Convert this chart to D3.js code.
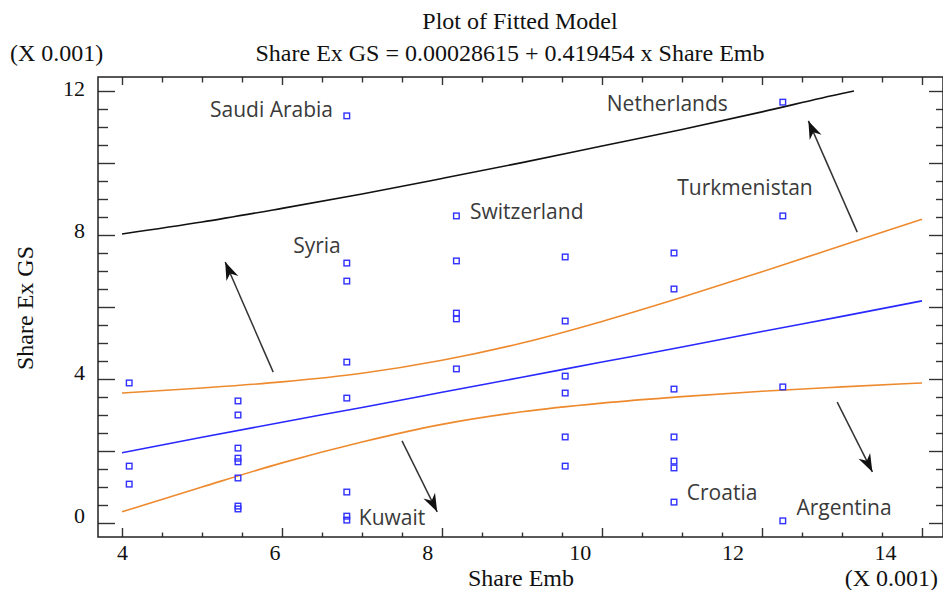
<!DOCTYPE html>
<html><head><meta charset="utf-8">
<script src="https://cdn.jsdelivr.net/npm/d3@7"></script>
<style>body{margin:0;background:#fff;overflow:hidden}</style>
</head><body><svg id="c" width="943" height="590"></svg>
<script>
// ---- data (units of 0.001) ----
const shareEmb = [
  4.09, 4.09, 4.09,
  5.45, 5.45, 5.45, 5.45, 5.45, 5.45, 5.45, 5.45,
  6.81, 6.81, 6.81, 6.81, 6.81, 6.81, 6.81, 6.81,
  8.18, 8.18, 8.18, 8.18, 8.18,
  9.54, 9.54, 9.54, 9.54, 9.54, 9.54,
  10.90, 10.90, 10.90, 10.90, 10.90, 10.90, 10.90,
  12.26, 12.26, 12.26, 12.26
];
const shareExGS = [
  3.89, 1.58, 1.08,
  3.39, 3.00, 2.08, 1.80, 1.70, 1.25, 0.47, 0.39,
  11.31, 7.22, 6.72, 4.47, 3.47, 0.86, 0.19, 0.08,
  8.53, 7.28, 5.83, 5.67, 4.28,
  7.39, 5.61, 4.08, 3.61, 2.39, 1.58,
  7.50, 6.50, 3.72, 2.39, 1.72, 1.53, 0.58,
  11.69, 8.53, 3.78, 0.06
];
const curveX    = [4, 5, 6, 7, 8, 9, 10, 11, 12, 13, 14];
const fitted    = [1.95, 2.38, 2.80, 3.21, 3.63, 4.05, 4.47, 4.89, 5.32, 5.74, 6.17];
const upperConf = [3.61, 3.75, 3.92, 4.16, 4.52, 5.00, 5.60, 6.27, 6.98, 7.71, 8.44];
const lowerConf = [0.31, 1.00, 1.67, 2.25, 2.74, 3.09, 3.33, 3.51, 3.66, 3.78, 3.89];
const predX     = [4, 5, 6, 7, 8, 9, 10, 11, 12, 13, 13.15];
const upperPred = [8.03, 8.36, 8.74, 9.14, 9.57, 10.01, 10.47, 10.93, 11.42, 11.93, 12.0];

const countries = ["Saudi Arabia", "Netherlands", "Switzerland", "Turkmenistan", "Syria", "Kuwait", "Croatia", "Argentina"];
const countryX  = [5.10, 10.06, 8.35, 10.94, 6.14, 6.96, 11.06, 12.43];
const countryY  = [11.28, 11.44, 8.44, 9.11, 7.50, -0.06, 0.64, 0.22];

const arrowFromX = [5.89, 7.50, 13.19, 12.94];
const arrowFromY = [4.19, 2.28, 8.08, 3.36];
const arrowToX   = [5.29, 7.94, 12.58, 13.38];
const arrowToY   = [7.25, 0.31, 11.17, 1.42];

const xTickLabels = [4, 6, 8, 10, 12, 14];
const yTickLabels = [0, 4, 8, 12];

const titleText = "Plot of Fitted Model";
const subtitleText = "Share Ex GS = 0.00028615 + 0.419454 x Share Emb";
const xTitle = "Share Emb";
const yTitle = "Share Ex GS";
const scaleNote = "(X 0.001)";

// ---- layout ----
const L = 98, R = 943, T = 77, B = 537;
const x = d3.scaleLinear().domain([3.7, 14.2625]).range([L, R]);
const y = d3.scaleLinear().domain([-14/36, 446/36]).range([B, T]);
// tick label placement (labels sit on a slightly different spacing in the original)
const xLab = d3.scaleLinear().domain([4, 14]).range([122, 885]);
const yLab = d3.scaleLinear().domain([0, 12]).range([515, 88]);

const svg = d3.select("#c");
const serif = "'Liberation Serif','Times New Roman',serif";
const sans = "'Open Sans','DejaVu Sans',sans-serif";

svg.append("defs").append("clipPath").attr("id", "clip")
  .append("rect").attr("x", L).attr("y", T).attr("width", R - L).attr("height", B - T);

const marker = svg.select("defs").append("marker")
  .attr("id", "ah").attr("markerUnits", "userSpaceOnUse")
  .attr("viewBox", "-19 -8 20 16").attr("refX", 0).attr("refY", 0)
  .attr("markerWidth", 20).attr("markerHeight", 16).attr("orient", "auto");
marker.append("path").attr("d", "M0,0 L-18,-6.5 L-12.5,0 L-18,6.5 Z").attr("fill", "#111");

// ticks
const xt = d3.range(4, 14.01, 0.5);
const yt = d3.range(0, 12.01, 0.5);
const isMajor = v => Math.abs(v / 2 - Math.round(v / 2)) < 1e-6;
const tickColor = "#333";

function styleAxis(g) { g.select(".domain").remove(); g.selectAll("line").attr("stroke", tickColor).attr("stroke-width", 1.4); }

svg.append("g").attr("transform", `translate(0,${B})`)
  .call(d3.axisTop(x).tickValues(xt).tickFormat(""))
  .call(styleAxis)
  .call(g => g.selectAll(".tick line").attr("y2", d => isMajor(d) ? -9 : -4.5));
svg.append("g").attr("transform", `translate(0,${T})`)
  .call(d3.axisBottom(x).tickValues(xt).tickFormat(""))
  .call(styleAxis)
  .call(g => g.selectAll(".tick line").attr("y2", d => isMajor(d) ? 8 : 5.5));
svg.append("g").attr("transform", `translate(${L},0)`)
  .call(d3.axisRight(y).tickValues(yt).tickFormat(""))
  .call(styleAxis)
  .call(g => g.selectAll(".tick line").attr("x2", d => isMajor(d) ? 17 : 10));
svg.append("g").attr("transform", `translate(${R},0)`)
  .call(d3.axisLeft(y).tickValues(yt).tickFormat(""))
  .call(styleAxis)
  .call(g => g.selectAll(".tick line").attr("x2", d => isMajor(d) ? -14 : -7));

// tick labels
svg.append("g").attr("transform", `translate(0,${B})`)
  .call(d3.axisBottom(xLab).tickValues(xTickLabels).tickSize(0).tickPadding(0).tickFormat(d3.format("d")))
  .call(g => g.select(".domain").remove())
  .call(g => g.selectAll("text").attr("font-family", serif).attr("font-size", 22).attr("fill", "#111").attr("dy", null).attr("y", 23));
svg.append("g").attr("transform", `translate(85,0)`)
  .call(d3.axisLeft(yLab).tickValues(yTickLabels).tickSize(0).tickPadding(0).tickFormat(d3.format("d")))
  .call(g => g.select(".domain").remove())
  .call(g => g.selectAll("text").attr("font-family", serif).attr("font-size", 22).attr("fill", "#111").attr("dy", "0.33em"));

// frame
svg.append("rect").attr("x", L).attr("y", T).attr("width", R - L).attr("height", B - T)
  .attr("fill", "none").attr("stroke", "#222").attr("stroke-width", 1.5);

// curves
const plot = svg.append("g").attr("clip-path", "url(#clip)");
const line = d3.line().x(d => x(d[0])).y(d => y(d[1]));
const curves = [
  {xs: predX, ys: upperPred, color: "#111"},
  {xs: curveX, ys: upperConf, color: "#ee8a2e"},
  {xs: curveX, ys: lowerConf, color: "#ee8a2e"},
  {xs: curveX, ys: fitted, color: "#2828ff"}
];
curves.forEach(c => {
  plot.append("path").datum(c.xs.map((v, i) => [v, c.ys[i]]))
    .attr("d", d3.line().curve(d3.curveMonotoneX).x(d => x(d[0])).y(d => y(d[1])))
    .attr("fill", "none").attr("stroke", c.color).attr("stroke-width", 1.6);
});

// points
plot.selectAll("rect.pt").data(shareEmb.map((v, i) => [v, shareExGS[i]])).join("rect")
  .attr("class", "pt")
  .attr("x", d => x(d[0]) - 2.8).attr("y", d => y(d[1]) - 2.8)
  .attr("width", 5.6).attr("height", 5.6)
  .attr("fill", "none").attr("stroke", "#3030ff").attr("stroke-width", 1.4);

// country labels
svg.selectAll("text.cty").data(countries).join("text")
  .attr("class", "cty")
  .attr("x", (d, i) => x(countryX[i])).attr("y", (d, i) => y(countryY[i]))
  .attr("font-family", sans).attr("font-size", 21).attr("fill", "#3a3a3a")
  .text(d => d);

// arrows
svg.selectAll("line.arr").data(arrowFromX).join("line")
  .attr("class", "arr")
  .attr("x1", (d, i) => x(arrowFromX[i])).attr("y1", (d, i) => y(arrowFromY[i]))
  .attr("x2", (d, i) => x(arrowToX[i])).attr("y2", (d, i) => y(arrowToY[i]))
  .attr("stroke", "#333").attr("stroke-width", 1.5).attr("marker-end", "url(#ah)");

// titles
const txt = (s, xx, yy, anchor, extra) => {
  const t = svg.append("text").attr("x", xx).attr("y", yy).attr("text-anchor", anchor)
    .attr("font-family", serif).attr("font-size", 24).attr("fill", "#111").text(s);
  if (extra) extra(t);
  return t;
};
txt(titleText, 520, 29, "middle");
txt(subtitleText, 510, 61, "middle");
txt(scaleNote, 10, 61, "start");
txt(xTitle, 521, 586, "middle");
txt(scaleNote, 938, 586, "end");
txt(yTitle, 0, 0, "middle", t => t.attr("transform", "translate(33,308) rotate(-90)"));
</script></body></html>
